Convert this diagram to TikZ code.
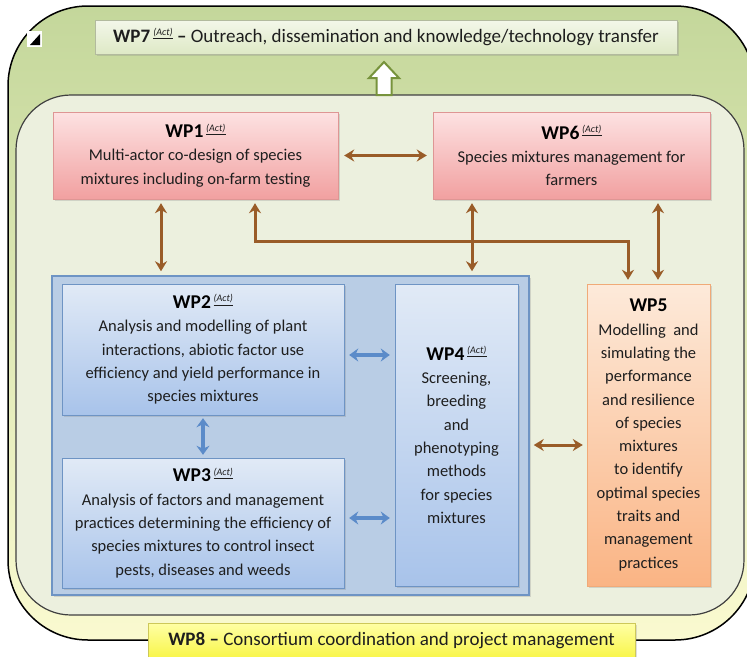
\documentclass[tikz,border=0pt]{standalone}
\usepackage{fontspec}
\setmainfont{Carlito}
\usetikzlibrary{arrows.meta,shadows}

\definecolor{outergreen}{RGB}{196,215,155}
\definecolor{outeryellow}{RGB}{250,250,208}
\definecolor{innerfill}{RGB}{236,240,222}
\definecolor{redtop}{RGB}{253,226,226}
\definecolor{redbot}{RGB}{241,160,160}
\definecolor{redline}{RGB}{222,150,148}
\definecolor{bluefill}{RGB}{185,205,229}
\definecolor{blueline}{RGB}{110,148,196}
\definecolor{bluetop}{RGB}{225,234,246}
\definecolor{bluebot}{RGB}{168,195,234}
\definecolor{orangetop}{RGB}{253,234,218}
\definecolor{orangebot}{RGB}{250,180,132}
\definecolor{orangeline}{RGB}{240,170,120}
\definecolor{greentop}{RGB}{243,247,233}
\definecolor{greenbot}{RGB}{222,233,198}
\definecolor{greenline}{RGB}{119,147,60}
\definecolor{yellowtop}{RGB}{255,255,165}
\definecolor{yellowbot}{RGB}{248,245,70}
\definecolor{yellowline}{RGB}{205,200,90}
\definecolor{arrowbrown}{RGB}{153,92,40}
\definecolor{arrowblue}{RGB}{91,139,201}
\definecolor{textgray}{RGB}{30,30,30}

\newcommand{\wptitle}[1]{{\fontsize{19.5}{23.3}\selectfont\bfseries\color{black}#1}}
\newcommand{\actsup}{\,\raisebox{6.5pt}{\fontsize{10}{10}\selectfont\mdseries\underline{\textit{(Act)}}}}

\begin{document}
\begin{tikzpicture}[x=1pt,y=-1pt,
	wpbox/.style={draw,rectangle,inner sep=0,align=center,text=textgray,font=\fontsize{16.5}{23.3}\selectfont,drop shadow={shadow xshift=1.5pt,shadow yshift=-1.5pt,opacity=0.25}},
	wpred/.style={wpbox,draw=redline,top color=redtop,bottom color=redbot},
	wpblue/.style={wpbox,draw=blueline,top color=bluetop,bottom color=bluebot},
	wporange/.style={wpbox,draw=orangeline,top color=orangetop,bottom color=orangebot},
	wpgreen/.style={wpbox,draw=greenbot!80!black,top color=greentop,bottom color=greenbot,font=\fontsize{19}{23}\selectfont},
	wpyellow/.style={wpbox,draw=yellowline,top color=yellowtop,bottom color=yellowbot,font=\fontsize{19}{23}\selectfont},
	brarrow/.style={draw=arrowbrown,line width=3pt,{Stealth[length=10pt,width=12pt]}-{Stealth[length=10pt,width=12pt]},shorten <=4pt,shorten >=4pt},
	blarrow/.style={draw=arrowblue,line width=3.5pt,{Stealth[length=9pt,width=13pt]}-{Stealth[length=9pt,width=13pt]},shorten <=5pt,shorten >=5pt}]
	\useasboundingbox (0,0) rectangle (747,656);
	\clip (0,0) rectangle (747,656);
	\draw[line width=1.5pt,top color=outergreen,bottom color=outeryellow,rounded corners=80pt] (8,6) rectangle (755,640);
	\fill[white] (27,31) rectangle (42,47);
	\fill[black] (30,45) -- (40,34) -- (40,45) -- cycle;
	\draw[line width=1.2pt,draw=black!75,fill=innerfill,rounded corners=55pt] (16,95) rectangle (744,615);
	\node[wpgreen,minimum width=582pt,minimum height=34pt] (wp7) at (386,37) {\textbf{WP7}\actsup{} \textbf{--} Outreach, dissemination and knowledge/technology transfer};
	\draw[line width=2pt,draw=greenline,fill=white,line join=miter] (376.5,95) -- (376.5,78) -- (369,78) -- (384,62) -- (399,78) -- (391.5,78) -- (391.5,95) -- cycle;
	\node[wpred,minimum width=285pt,minimum height=87pt] (wp1) at (195.5,155.5) {\wptitle{WP1}\actsup\\Multi-actor co-design of species\\mixtures including on-farm testing};
	\node[wpred,minimum width=277pt,minimum height=87pt] (wp6) at (571.5,155.5) {\wptitle{WP6}\actsup\\Species mixtures management for\\farmers};
	\node[draw=blueline,line width=1.5pt,fill=bluefill,minimum width=477pt,minimum height=319pt,inner sep=0,drop shadow={shadow xshift=1.5pt,shadow yshift=-1.5pt,opacity=0.25}] (blue) at (290.5,435.5) {};
	\node[wpblue,minimum width=282pt,minimum height=131pt] (wp2) at (203,349.5) {\wptitle{WP2}\actsup\\Analysis and modelling of plant\\interactions, abiotic factor use\\efficiency and yield performance in\\species mixtures};
	\node[wpblue,minimum width=282pt,minimum height=130pt] (wp3) at (203,523) {\wptitle{WP3}\actsup\\Analysis of factors and management\\practices determining the efficiency of\\species mixtures to control insect\\pests, diseases and weeds};
	\node[wpblue,minimum width=123pt,minimum height=302pt] (wp4) at (456.5,435) {\wptitle{WP4}\actsup\\Screening,\\breeding\\and\\phenotyping\\methods\\for species\\mixtures};
	\node[wporange,minimum width=123pt,minimum height=302pt] (wp5) at (648.5,435) {\wptitle{WP5}\\Modelling\ \ and\\simulating the\\performance\\and resilience\\of species\\mixtures\\to identify\\optimal species\\traits and\\management\\practices};
	\coordinate (turn) at (628,241);
	\draw[brarrow,shorten <=6pt,shorten >=6pt] (wp1) -- (wp6);
	\draw[brarrow] ([xshift=-34.5pt]wp1.south) -- ([xshift=-34.5pt]wp1.south |- blue.north);
	\draw[brarrow] ([xshift=59.5pt]wp1.south) |- (turn) -- (turn |- wp5.north);
	\draw[brarrow] ([xshift=-99.5pt]wp6.south) -- ([xshift=-99.5pt]wp6.south |- blue.north);
	\draw[brarrow] ([xshift=86.5pt]wp6.south) -- ([xshift=86.5pt]wp6.south |- wp5.north);
	\draw[brarrow] ([yshift=-9.5pt]blue.east) -- ([yshift=-9.5pt]blue.east -| wp5.west);
	\draw[blarrow] ([yshift=-5.5pt]wp2.east) -- ([yshift=-5.5pt]wp2.east -| wp4.west);
	\draw[blarrow] ([yshift=5pt]wp3.east) -- ([yshift=5pt]wp3.east -| wp4.west);
	\draw[blarrow,shorten <=3pt,shorten >=3pt] (wp2) -- (wp3);
	\node[wpyellow,minimum width=487pt,minimum height=36pt] (wp8) at (391.5,641) {\textbf{WP8 --} Consortium coordination and project management};
\end{tikzpicture}
\end{document}
